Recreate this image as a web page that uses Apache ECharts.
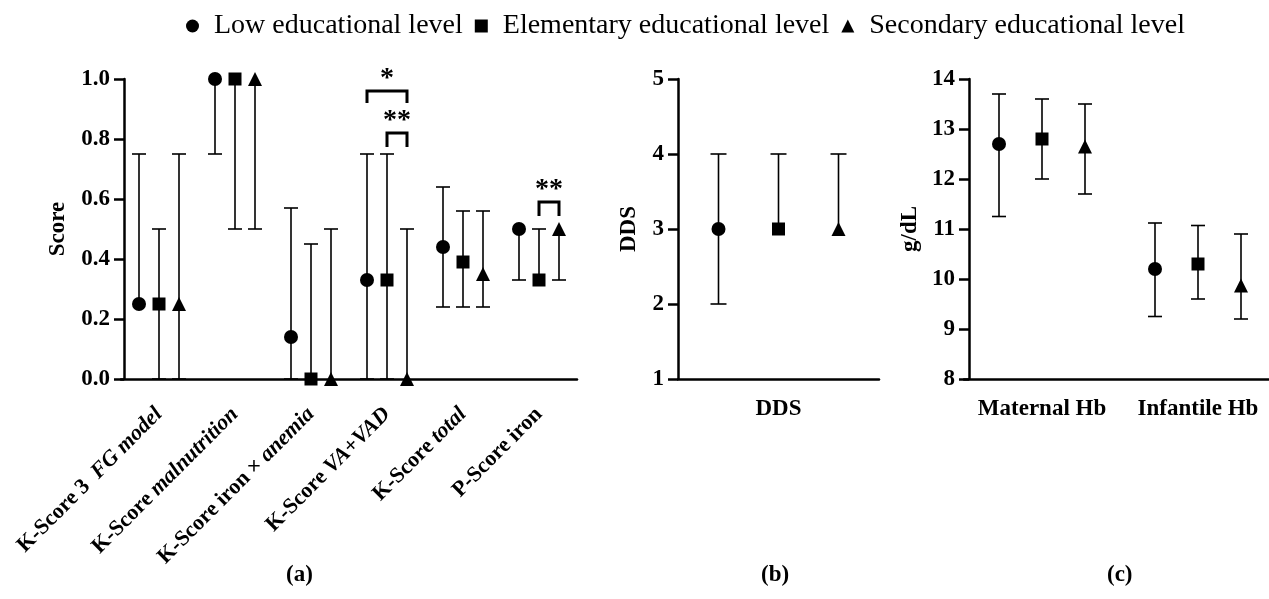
<!DOCTYPE html>
<html>
<head>
<meta charset="utf-8">
<script src="https://cdn.jsdelivr.net/npm/echarts@6/dist/echarts.min.js"></script>
<style>
  html, body { margin: 0; padding: 0; background: #fff; }
  #chart { width: 1269px; height: 599px; }
</style>
</head>
<body>
<div id="chart"></div>
<script>
// groups
const groups = ['Low educational level', 'Elementary educational level', 'Secondary educational level'];
const symbols = ['circle', 'rect', 'triangle'];

// panel (a) categories: upright part + italic part
const scorePlain = ['K-Score 3  ', 'K-Score ', 'K-Score iron \u00d7 ', 'K-Score ', 'K-Score ', 'P-Score iron'];
const scoreItalic = ['FG model', 'malnutrition', 'anemia', 'VA+VAD', 'total', ''];
const scoreCats = scorePlain.map((p, i) => p + scoreItalic[i]);
// median / low / high, one row per group
const scoreMedian = [
  [0.25, 1.0, 0.14, 0.33, 0.44, 0.50],
  [0.25, 1.0, 0.00, 0.33, 0.39, 0.33],
  [0.25, 1.0, 0.00, 0.00, 0.35, 0.50]
];
const scoreLow = [
  [0.25, 0.75, 0.00, 0.00, 0.24, 0.33],
  [0.00, 0.50, 0.00, 0.00, 0.24, 0.33],
  [0.00, 0.50, 0.00, 0.00, 0.24, 0.33]
];
const scoreHigh = [
  [0.75, 1.0, 0.57, 0.75, 0.64, 0.50],
  [0.50, 1.0, 0.45, 0.75, 0.56, 0.50],
  [0.75, 1.0, 0.50, 0.50, 0.56, 0.50]
];
// significance brackets in panel (a)
const sigCategory = [3, 3, 5];
const sigTop = [0.96, 0.82, 0.59];
const sigFrom = [0, 1, 1];
const sigTo = [2, 2, 2];
const sigLabel = ['*', '**', '**'];

// panel (b)
const ddsCats = ['DDS'];
const ddsMedian = [[3], [3], [3]];
const ddsLow = [[2], [3], [3]];
const ddsHigh = [[4], [4], [4]];

// panel (c)
const hbCats = ['Maternal Hb', 'Infantile Hb'];
const hbMedian = [[12.7, 10.2], [12.8, 10.3], [12.65, 9.87]];
const hbLow = [[11.25, 9.25], [12.0, 9.6], [11.7, 9.2]];
const hbHigh = [[13.7, 11.12], [13.6, 11.07], [13.5, 10.9]];

const FONT = 'Liberation Serif';
const AXW = 2.5;

// per panel: pixel offset between groups, cap width
const panels = [
  { cats: scoreCats, med: scoreMedian, low: scoreLow, high: scoreHigh, step: 20, cap: 14 },
  { cats: ddsCats, med: ddsMedian, low: ddsLow, high: ddsHigh, step: 60, cap: 16 },
  { cats: hbCats, med: hbMedian, low: hbLow, high: hbHigh, step: 43, cap: 14 }
];

function errSeries(p, gi, g) {
  const dx = (g - 1) * p.step;
  return {
    type: 'custom',
    name: 'err' + gi + g,
    xAxisIndex: gi, yAxisIndex: gi,
    z: 2,
    silent: true,
    data: p.cats.map((c, i) => [i, p.low[g][i], p.high[g][i], p.med[g][i]]),
    renderItem: function (params, api) {
      const lo = api.coord([api.value(0), api.value(1)]);
      const hi = api.coord([api.value(0), api.value(2)]);
      const x = lo[0] + dx;
      const med = api.value(3);
      const st = { stroke: '#000', lineWidth: 1.6 };
      const ch = [{ type: 'line', shape: { x1: x, y1: lo[1], x2: x, y2: hi[1] }, style: st }];
      if (api.value(1) !== med) ch.push({ type: 'line', shape: { x1: x - p.cap / 2, y1: lo[1], x2: x + p.cap / 2, y2: lo[1] }, style: st });
      if (api.value(2) !== med) ch.push({ type: 'line', shape: { x1: x - p.cap / 2, y1: hi[1], x2: x + p.cap / 2, y2: hi[1] }, style: st });
      return { type: 'group', children: ch };
    }
  };
}

function markSeries(p, gi, g) {
  return {
    type: 'scatter',
    name: groups[g],
    xAxisIndex: gi, yAxisIndex: gi,
    z: 5,
    symbol: symbols[g],
    symbolSize: g === 1 ? 13 : 14,
    symbolOffset: [(g - 1) * p.step, 0],
    itemStyle: { color: '#000', opacity: 1 },
    data: p.cats.map((c, i) => [i, p.med[g][i]])
  };
}

const series = [];
panels.forEach((p, gi) => {
  for (let g = 0; g < 3; g++) series.push(errSeries(p, gi, g));
  for (let g = 0; g < 3; g++) series.push(markSeries(p, gi, g));
});

// brackets
series.push({
  type: 'custom',
  name: 'sig',
  xAxisIndex: 0, yAxisIndex: 0,
  z: 4,
  silent: true,
  data: sigCategory.map((c, i) => [c, sigTop[i], sigFrom[i], sigTo[i]]),
  renderItem: function (params, api) {
    const pt = api.coord([api.value(0), api.value(1)]);
    const step = panels[0].step;
    const x1 = pt[0] + (api.value(2) - 1) * step;
    const x2 = pt[0] + (api.value(3) - 1) * step;
    const y = pt[1];
    const leg = params.dataIndex === 0 ? 12 : 14;
    return {
      type: 'group',
      children: [
        { type: 'polyline', shape: { points: [[x1, y + leg], [x1, y], [x2, y], [x2, y + leg]] },
          style: { stroke: '#000', lineWidth: 3, fill: null } },
        { type: 'text', style: { text: sigLabel[params.dataIndex], x: (x1 + x2) / 2, y: y - 12,
          align: 'center', verticalAlign: 'middle', font: 'bold 28px "' + FONT + '"', fill: '#000' } }
      ]
    };
  }
});

const labelStyle = { color: '#000', fontFamily: FONT, fontWeight: 'bold', fontSize: 23 };

function xAx(gi, cats, extra) {
  return Object.assign({
    type: 'category', gridIndex: gi, data: cats,
    boundaryGap: true,
    axisLine: { lineStyle: { color: '#000', width: AXW } },
    axisTick: { alignWithLabel: true, length: 10, lineStyle: { color: '#000', width: AXW } },
    splitLine: { show: false },
    axisLabel: Object.assign({ margin: 19, interval: 0 }, labelStyle)
  }, extra || {});
}

function yAx(gi, min, max, interval, name, gap, off, fmt) {
  return {
    type: 'value', gridIndex: gi, min: min, max: max, interval: interval,
    offset: off,
    name: name, nameLocation: 'middle', nameGap: gap,
    nameTextStyle: labelStyle,
    axisLine: { show: true, lineStyle: { color: '#000', width: AXW } },
    axisTick: { show: true, length: 10, lineStyle: { color: '#000', width: AXW } },
    splitLine: { show: false },
    axisLabel: Object.assign({ margin: 14, formatter: fmt }, labelStyle)
  };
}

const option = {
  backgroundColor: '#fff',
  animation: false,
  legend: {
    data: groups.map((n, i) => ({ name: n, icon: symbols[i] })),
    left: 181, top: 7,
    itemWidth: 13, itemHeight: 13, itemGap: 12,
    textStyle: { fontFamily: FONT, fontSize: 28, color: '#000', padding: [0, 0, 0, 10] }
  },
  grid: [
    { left: 121, top: 79, width: 456, height: 300, outerBoundsMode: 'none' },
    { left: 678, top: 79, width: 201, height: 300, outerBoundsMode: 'none' },
    { left: 964, top: 79, width: 312, height: 300, outerBoundsMode: 'none' }
  ],
  xAxis: [
    xAx(0, scoreCats, {
      axisLabel: {
        margin: 32, interval: 0, rotate: 45,
        formatter: function (v, idx) {
          return '{n|' + scorePlain[idx] + '}' + (scoreItalic[idx] ? '{i|' + scoreItalic[idx] + '}' : '');
        },
        rich: {
          n: { color: '#000', fontFamily: FONT, fontWeight: 'bold', fontSize: 22 },
          i: { color: '#000', fontFamily: FONT, fontWeight: 'bold', fontStyle: 'italic', fontSize: 22 }
        }
      }
    }),
    xAx(1, ddsCats),
    xAx(2, hbCats)
  ],
  yAxis: [
    yAx(0, 0, 1, 0.2, 'Score', 54, -3, v => v.toFixed(1)),
    yAx(1, 1, 5, 1, 'DDS', 37, 0, v => v),
    yAx(2, 8, 14, 1, 'g/dL', 47, -5, v => v)
  ],
  graphic: [
    { type: 'text', left: 286, top: 564, style: { text: '(a)', font: 'bold 23px "' + FONT + '"', fill: '#000' } },
    { type: 'text', left: 761, top: 564, style: { text: '(b)', font: 'bold 23px "' + FONT + '"', fill: '#000' } },
    { type: 'text', left: 1107, top: 564, style: { text: '(c)', font: 'bold 23px "' + FONT + '"', fill: '#000' } }
  ],
  series: series
};

const chart = echarts.init(document.getElementById('chart'));
chart.setOption(option);
</script>
</body>
</html>
